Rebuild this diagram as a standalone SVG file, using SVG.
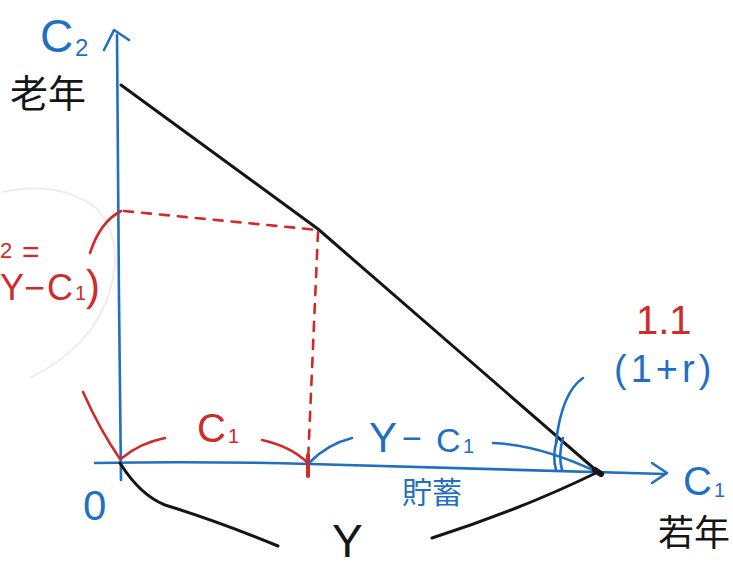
<svg xmlns="http://www.w3.org/2000/svg" width="733" height="571" viewBox="0 0 733 571">
<style>
.blue{stroke:#1f6fc2;fill:none;stroke-width:2.6;stroke-linecap:round;stroke-linejoin:round}
.red{stroke:#d02a2a;fill:none;stroke-width:2.6;stroke-linecap:round;stroke-linejoin:round}
.blk{stroke:#151515;fill:none;stroke-width:3;stroke-linecap:round;stroke-linejoin:round}
.dash{stroke-dasharray:9 9}
.tb{fill:#1f6fc2;font-family:"Liberation Sans","Noto Sans CJK JP",sans-serif}
.tr{fill:#d02a2a;font-family:"Liberation Sans",sans-serif}
.tk{fill:#151515;font-family:"Liberation Sans","Noto Sans CJK JP",sans-serif}
</style>
<rect width="733" height="571" fill="#ffffff"/>
<path d="M2,192 Q60,180 96,208 Q125,240 110,290 Q95,345 30,378" fill="none" stroke="#f0ecf0" stroke-width="2"/>
<g id="connectors">
  <path id="c2-axis" class="blue" d="M121,480 L119,300 L117,35"/>
  <path class="blue" d="M104,50 L114,30 L129,40"/>
  <path id="c1-axis" class="blue" d="M95,463 Q200,461 310,464 Q450,468 665,474"/>
  <path class="blue" d="M652,463 L667,473 L652,483"/>
  <path id="budget-line" class="blk" d="M121,85 L318,229 L598,472"/>
  <path class="red dash" d="M124,211 L318,230"/>
  <path class="red dash" d="M318,232 L308,462"/>
  <path class="red" d="M308,455 L308,476" style="stroke-width:4"/>
  <path class="red" d="M90,253 Q100,222 121,211"/>
  <path class="red" d="M83,392 Q100,430 120,459"/>
  <path class="red" d="M122,458 Q140,443 165,438"/>
  <path class="red" d="M262,440 Q290,446 308,463"/>
  <path class="blue" d="M310,462 Q328,444 352,438"/>
  <path class="blue" d="M493,443 Q540,445 597,472"/>
  <path class="blue" d="M583,378 Q562,392 556,442"/>
  <path class="blue" d="M557,440 Q552,455 556,470"/>
  <path class="blue" d="M563,438 Q558,455 562,470"/>
  <path class="blk" d="M120,463 Q140,495 165,505 Q220,522 278,546"/>
  <path class="blk" d="M432,538 Q520,510 598,472"/>
  <path class="blk" d="M595,470 L601,474" style="stroke-width:6"/>
</g>
<g id="label-c2"><text class="tb" x="40" y="52" font-size="46">C</text><text class="tb" x="75" y="56" font-size="24">2</text></g>
<g id="label-old"><text class="tk" x="10" y="107" font-size="38">老年</text></g>
<g id="label-c2-eq">
  <text class="tr" x="0" y="258" font-size="22">2</text>
  <text class="tr" x="22" y="262" font-size="30">=</text>
  <text class="tr" x="0" y="300" font-size="36">Y</text>
  <text class="tr" x="24" y="300" font-size="36">−</text>
  <text class="tr" x="47" y="300" font-size="36">C</text>
  <text class="tr" x="75" y="300" font-size="20">1</text>
  <text class="tr" x="86" y="300" font-size="42">)</text>
</g>
<g id="label-c1-red"><text class="tr" x="197" y="442" font-size="40">C</text><text class="tr" x="228" y="443" font-size="20">1</text></g>
<g id="label-y-c1"><text class="tb" x="369" y="452" font-size="42">Y</text><text class="tb" x="402" y="450" font-size="34">−</text><text class="tb" x="436" y="452" font-size="34">C</text><text class="tb" x="463" y="453" font-size="20">1</text></g>
<g id="label-origin"><text class="tb" x="83" y="520" font-size="42">0</text></g>
<g id="label-saving"><text class="tb" x="402" y="503" font-size="30">貯蓄</text></g>
<g id="label-y"><text class="tk" x="332" y="557" font-size="46">Y</text></g>
<g id="label-c1"><text class="tb" x="683" y="495" font-size="40">C</text><text class="tb" x="714" y="497" font-size="20">1</text></g>
<g id="label-young"><text class="tk" x="658" y="546" font-size="36">若年</text></g>
<g id="label-rate"><text class="tr" x="636" y="334" font-size="40">1.1</text><text class="tb" x="614" y="382" font-size="38" letter-spacing="4">(1+r)</text></g>
</svg>
